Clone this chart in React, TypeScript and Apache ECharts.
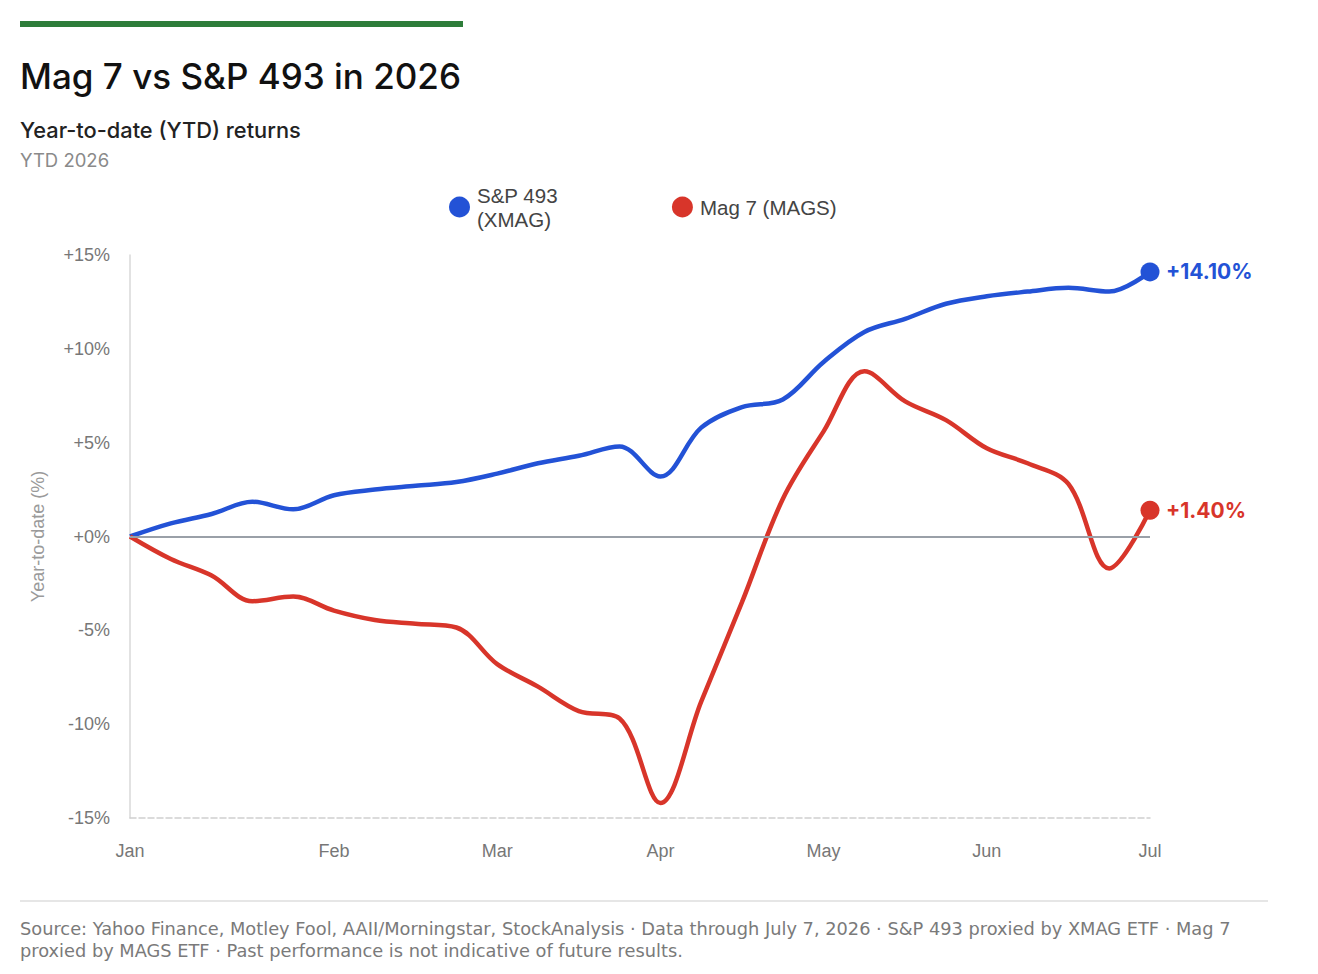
import React, { useEffect, useRef } from "react";
import * as echarts from "echarts";

const weeks: string[] = [
  "Jan", "w1", "w2", "w3", "w4", "Feb", "w6", "w7", "w8", "Mar", "w10", "w11", "w12",
  "Apr", "w14", "w15", "w16", "May", "w18", "w19", "w20", "Jun", "w22", "w23", "w24", "Jul",
];
const monthLabels: string[] = ["Jan", "Feb", "Mar", "Apr", "May", "Jun", "Jul"];

const sp493: number[] = [
  0, 0.7, 1.2, 1.85, 1.45, 2.2, 2.5, 2.7, 2.9, 3.35, 3.9, 4.3, 4.8,
  3.2, 5.8, 6.9, 7.3, 9.3, 10.9, 11.6, 12.4, 12.8, 13.05, 13.25, 13.05, 14.1,
];
const mag7: number[] = [
  0, -1.2, -2.08, -3.45, -3.2, -3.95, -4.45, -4.65, -4.85, -6.8, -8.0, -9.3, -9.7,
  -14.2, -8.8, -3.5, 2.0, 5.6, 8.8, 7.2, 6.2, 4.7, 3.9, 2.8, -1.7, 1.4,
];
const yTicks: number[] = [-15, -10, -5, 0, 5, 10, 15];

const BLUE = "#2352d6";
const RED = "#d8352a";
const SANS = "'Helvetica Neue', Helvetica, Arial, 'Liberation Sans', sans-serif";
const UI = "Inter, 'Helvetica Neue', Arial, sans-serif";

export default function App() {
  const ref = useRef<HTMLDivElement>(null);
  useEffect(() => {
    if (!ref.current) return;
    const chart = echarts.init(ref.current, undefined, { renderer: "svg" });
    const last = weeks.length - 1;
    const fmt = (v: number) => (v >= 0 ? "+" : "") + v.toFixed(2) + "%";
    chart.setOption({
      animation: false,
      backgroundColor: "#ffffff",
      grid: { left: 130, right: 168, top: 255, bottom: 156, containLabel: false },
      legend: {
        left: 444,
        top: 178,
        itemGap: 114,
        itemWidth: 21,
        itemHeight: 21,
        icon: "circle",
        selectedMode: false,
        textStyle: { fontFamily: SANS, fontSize: 20.5, color: "#444", lineHeight: 24, padding: [0, 0, 0, 2] },
        data: [
          { name: "S&P 493\n(XMAG)", itemStyle: { color: BLUE } },
          { name: "Mag 7 (MAGS)", itemStyle: { color: RED } },
        ],
      },
      xAxis: {
        type: "category",
        data: weeks,
        boundaryGap: false,
        axisLine: { show: true, onZero: false, lineStyle: { color: "#d0d0d0", type: "dashed", width: 1.5 } },
        axisTick: { show: false },
        axisLabel: {
          interval: (i: number, v: string) => monthLabels.includes(v),
          color: "#777",
          fontFamily: SANS,
          fontSize: 18,
          margin: 24,
        },
        splitLine: { show: false },
      },
      yAxis: {
        type: "value",
        min: yTicks[0],
        max: yTicks[yTicks.length - 1],
        interval: 5,
        name: "Year-to-date (%)",
        nameLocation: "middle",
        nameGap: 83,
        nameTextStyle: { color: "#9a9a9a", fontFamily: SANS, fontSize: 18 },
        axisLine: { show: true, lineStyle: { color: "#d9d9d9", width: 1.5 } },
        axisTick: { show: false },
        splitLine: { show: false },
        axisLabel: {
          color: "#777",
          fontFamily: SANS,
          fontSize: 18,
          margin: 20,
          formatter: (v: number) => (v >= 0 ? "+" : "") + v + "%",
        },
      },
      series: [
        {
          name: "S&P 493\n(XMAG)",
          type: "line",
          data: sp493,
          smooth: 0.35,
          color: BLUE,
          lineStyle: { width: 4.5, color: BLUE },
          showSymbol: true,
          symbol: "circle",
          symbolSize: (_v: number, p: any) => (p.dataIndex === last ? 19 : 0),
          itemStyle: { color: BLUE },
          endLabel: {
            show: true,
            formatter: () => fmt(sp493[last]),
            color: BLUE,
            fontFamily: UI,
            fontSize: 21,
            fontWeight: "bold",
            distance: 16,
          },
          z: 3,
          markLine: {
            silent: true,
            symbol: "none",
            label: { show: false },
            lineStyle: { color: "#9aa0a8", width: 2, type: "solid" },
            data: [{ yAxis: 0 }],
          },
        },
        {
          name: "Mag 7 (MAGS)",
          type: "line",
          data: mag7,
          smooth: 0.35,
          color: RED,
          lineStyle: { width: 4.5, color: RED },
          showSymbol: true,
          symbol: "circle",
          symbolSize: (_v: number, p: any) => (p.dataIndex === last ? 19 : 0),
          itemStyle: { color: RED },
          endLabel: {
            show: true,
            formatter: () => fmt(mag7[last]),
            color: RED,
            fontFamily: UI,
            fontSize: 21,
            fontWeight: "bold",
            distance: 16,
          },
          z: 4,
        },
      ],
      graphic: [
        { type: "rect", left: 20, top: 21, shape: { width: 443, height: 6 }, style: { fill: "#2e7d3a" } },
        {
          type: "text",
          left: 20,
          top: 58,
          style: { text: "Mag 7 vs S&P 493 in 2026", fontFamily: UI, fontSize: 35, fontWeight: 500, fill: "#111" },
        },
        {
          type: "text",
          left: 20,
          top: 119,
          style: { text: "Year-to-date (YTD) returns", fontFamily: UI, fontSize: 21.8, fontWeight: 500, fill: "#222" },
        },
        {
          type: "text",
          left: 20,
          top: 150,
          style: { text: "YTD 2026", fontFamily: UI, fontSize: 18.5, fill: "#8a8a8a" },
        },
        { type: "rect", left: 20, top: 900, shape: { width: 1248, height: 2 }, style: { fill: "#e6e6e6" } },
        {
          type: "text",
          left: 20,
          top: 917,
          style: {
            text:
              "Source: Yahoo Finance, Motley Fool, AAII/Morningstar, StockAnalysis · Data through July 7, 2026 · S&P 493 proxied by XMAG ETF · Mag 7\nproxied by MAGS ETF · Past performance is not indicative of future results.",
            fontFamily: "'DejaVu Sans', Verdana, sans-serif",
            fontSize: 17.8,
            lineHeight: 22,
            fill: "#7a7a7a",
          },
        },
      ],
    });
    return () => chart.dispose();
  }, []);
  return (
    <div
      ref={ref}
      style={{ position: "absolute", left: 0, top: 0, width: 1318, height: 974, background: "#fff" }}
    />
  );
}
